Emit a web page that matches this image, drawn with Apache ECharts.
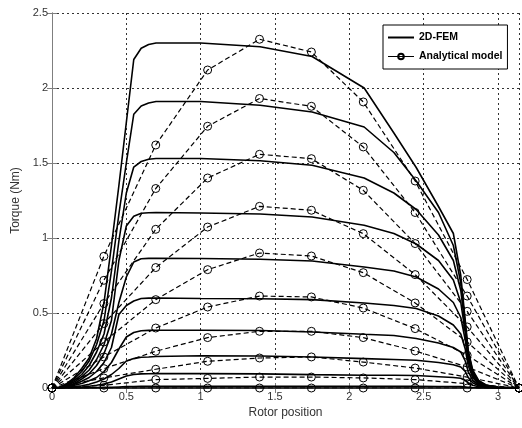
<!DOCTYPE html>
<html><head><meta charset="utf-8">
<script src="https://cdn.jsdelivr.net/npm/echarts@6/dist/echarts.min.js"></script>
<style>html,body{margin:0;padding:0;background:#fff}#c{width:522px;height:428px}</style>
</head><body><div id="c"></div>
<script>
const xMax = 3.1416;
const xTicks = [0, 0.5, 1, 1.5, 2, 2.5, 3];
const yTicks = [0, 0.5, 1, 1.5, 2, 2.5];

// 2D-FEM sample positions
const femX = [0, 0.05, 0.1, 0.15, 0.2, 0.25, 0.3, 0.35, 0.4, 0.45, 0.5, 0.55, 0.6, 0.65, 0.7,
              1.0, 1.4, 1.75, 2.1,
              2.3, 2.45, 2.6, 2.7, 2.75, 2.78, 2.8, 2.83, 2.87, 2.92, 3.0, 3.1416];
const fem1 = [0, 0.005, 0.03, 0.07, 0.13, 0.2, 0.33, 0.57, 0.95, 1.35, 1.77, 2.19, 2.265, 2.29, 2.30,
              2.30, 2.275, 2.21, 2.0,
              1.70, 1.47, 1.21, 1.03, 0.75, 0.45, 0.25, 0.12, 0.05, 0.02, 0.005, 0];
const fem2 = [0, 0.004, 0.025, 0.06, 0.11, 0.18, 0.29, 0.45, 0.78, 1.16, 1.5, 1.825, 1.88, 1.90, 1.91,
              1.91, 1.885, 1.84, 1.74,
              1.57, 1.38, 1.17, 0.95, 0.70, 0.43, 0.24, 0.11, 0.045, 0.018, 0.004, 0];
const fem3 = [0, 0.003, 0.02, 0.05, 0.09, 0.15, 0.24, 0.36, 0.6, 0.98, 1.3, 1.473, 1.51, 1.525, 1.53,
              1.53, 1.515, 1.485, 1.40,
              1.30, 1.19, 1.02, 0.85, 0.65, 0.40, 0.22, 0.10, 0.04, 0.016, 0.004, 0];
const fem4 = [0, 0.003, 0.018, 0.04, 0.075, 0.12, 0.19, 0.29, 0.45, 0.85, 1.08, 1.145, 1.165, 1.168, 1.17,
              1.167, 1.16, 1.14, 1.085,
              1.03, 0.96, 0.85, 0.72, 0.57, 0.37, 0.20, 0.09, 0.035, 0.014, 0.003, 0];
const fem5 = [0, 0.002, 0.015, 0.03, 0.06, 0.095, 0.15, 0.23, 0.36, 0.57, 0.74, 0.84, 0.862, 0.864, 0.865,
              0.863, 0.858, 0.847, 0.807,
              0.78, 0.74, 0.66, 0.57, 0.47, 0.32, 0.18, 0.08, 0.03, 0.012, 0.003, 0];
const fem6 = [0, 0.002, 0.012, 0.025, 0.045, 0.07, 0.11, 0.17, 0.27, 0.49, 0.55, 0.58, 0.597, 0.599, 0.6,
              0.597, 0.595, 0.589, 0.567,
              0.55, 0.53, 0.48, 0.42, 0.36, 0.26, 0.15, 0.07, 0.025, 0.01, 0.002, 0];
const fem7 = [0, 0.001, 0.008, 0.018, 0.03, 0.048, 0.07, 0.11, 0.17, 0.26, 0.34, 0.37, 0.382, 0.384, 0.385,
              0.385, 0.383, 0.373, 0.358,
              0.35, 0.33, 0.30, 0.27, 0.24, 0.18, 0.11, 0.05, 0.02, 0.008, 0.002, 0];
const fem8 = [0, 0.001, 0.005, 0.01, 0.015, 0.025, 0.04, 0.06, 0.09, 0.13, 0.18, 0.196, 0.205, 0.207, 0.21,
              0.215, 0.213, 0.207, 0.196,
              0.19, 0.185, 0.17, 0.155, 0.14, 0.11, 0.07, 0.035, 0.014, 0.006, 0.001, 0];
const fem9 = [0, 0, 0.002, 0.004, 0.007, 0.012, 0.018, 0.027, 0.04, 0.06, 0.08, 0.09, 0.094, 0.095, 0.096,
              0.096, 0.094, 0.089, 0.085,
              0.085, 0.083, 0.075, 0.07, 0.065, 0.05, 0.035, 0.018, 0.008, 0.003, 0.001, 0];
const fem10 = [0, 0, 0, 0.001, 0.001, 0.002, 0.003, 0.004, 0.005, 0.007, 0.009, 0.01, 0.011, 0.011, 0.011,
               0.011, 0.011, 0.011, 0.011,
               0.011, 0.011, 0.01, 0.01, 0.009, 0.007, 0.005, 0.003, 0.001, 0, 0, 0];
const fem11 = [0, 0, 0, 0, 0, 0, 0, 0, 0, 0, 0, 0, 0, 0, 0,
               0, 0, 0, 0,
               0, 0, 0, 0, 0, 0, 0, 0, 0, 0, 0, 0];

// Analytical model sample positions
const anaX = [0, 0.349, 0.698, 1.047, 1.396, 1.745, 2.094, 2.443, 2.793, 3.1416];
const ana1 = [0, 0.878, 1.62, 2.12, 2.325, 2.24, 1.907, 1.38, 0.723, 0];
const ana2 = [0, 0.718, 1.33, 1.745, 1.93, 1.878, 1.607, 1.17, 0.613, 0];
const ana3 = [0, 0.563, 1.058, 1.40, 1.558, 1.529, 1.318, 0.963, 0.511, 0];
const ana4 = [0, 0.43, 0.803, 1.073, 1.211, 1.185, 1.029, 0.756, 0.407, 0];
const ana5 = [0, 0.307, 0.589, 0.789, 0.90, 0.88, 0.769, 0.567, 0.307, 0];
const ana6 = [0, 0.207, 0.40, 0.54, 0.613, 0.607, 0.533, 0.396, 0.218, 0];
const ana7 = [0, 0.129, 0.245, 0.336, 0.378, 0.378, 0.336, 0.247, 0.14, 0];
const ana8 = [0, 0.067, 0.125, 0.178, 0.20, 0.207, 0.173, 0.133, 0.073, 0];
const ana9 = [0, 0.018, 0.056, 0.064, 0.073, 0.073, 0.067, 0.056, 0.029, 0];
const ana10 = [0, 0, 0, 0, 0, 0, 0, 0, 0, 0];

const femCurves = [fem1, fem2, fem3, fem4, fem5, fem6, fem7, fem8, fem9, fem10, fem11];
const anaCurves = [ana1, ana2, ana3, ana4, ana5, ana6, ana7, ana8, ana9, ana10];

const series = [];
femCurves.forEach(c => series.push({
  type: 'line', name: '2D-FEM', symbol: 'none', showSymbol: false, silent: true,
  data: femX.map((x, i) => [x, c[i]]),
  lineStyle: { color: '#000', width: 1.6 }, itemStyle: { color: '#000' }, z: 3
}));
anaCurves.forEach(c => series.push({
  type: 'line', name: 'Analytical model', symbol: 'circle', symbolSize: 8, silent: true,
  data: anaX.map((x, i) => [x, c[i]]),
  lineStyle: { color: '#000', width: 1.2, type: [5, 3] },
  itemStyle: { color: 'rgba(255,255,255,0)', borderColor: '#000', borderWidth: 1 }, z: 4
}));

const font = 'Liberation Sans, Arial, sans-serif';
const isTick = (v, arr) => arr.some(t => Math.abs(t - v) < 1e-9);
const axisGray = '#7f7f7f';

const chart = echarts.init(document.getElementById('c'), null, { renderer: 'canvas' });
chart.setOption({
  animation: false,
  backgroundColor: '#fff',
  grid: { left: 52, right: 2, top: 13, bottom: 40, show: false },
  legend: {
    orient: 'vertical', left: 383, top: 25,
    data: [
      { name: '2D-FEM', itemStyle: { opacity: 0 }, lineStyle: { width: 2, type: 'solid', color: '#000' } },
      { name: 'Analytical model', lineStyle: { width: 1, type: 'solid', color: '#000' } }
    ],
    itemWidth: 26, itemHeight: 7, itemGap: 8,
    padding: [7, 5, 7, 4],
    borderColor: '#000', borderWidth: 1, backgroundColor: '#fff',
    textStyle: { fontFamily: font, fontSize: 10.5, fontWeight: 'bold', color: '#000' },
    selectedMode: false
  },
  xAxis: [{
    type: 'value', min: 0, max: xMax, interval: 0.5, position: 'bottom',
    axisLine: { lineStyle: { color: axisGray } },
    axisTick: { inside: true, length: 5, lineStyle: { color: axisGray } },
    axisLabel: { color: '#333', fontFamily: font, fontSize: 11, margin: 3,
      formatter: v => isTick(v, xTicks) ? String(v) : '' },
    splitLine: { show: true, lineStyle: { color: '#333', type: [2, 3], width: 1 } },
    name: 'Rotor position', nameLocation: 'middle', nameGap: 16,
    nameTextStyle: { color: '#333', fontFamily: font, fontSize: 12 }
  }, {
    type: 'value', min: 0, max: xMax, interval: 0.5, position: 'top',
    axisLine: { lineStyle: { color: axisGray } },
    axisTick: { inside: true, length: 5, lineStyle: { color: axisGray } },
    axisLabel: { show: false }, splitLine: { show: false }
  }],
  yAxis: [{
    type: 'value', min: 0, max: 2.5, interval: 0.5, position: 'left',
    axisLine: { show: true, lineStyle: { color: axisGray } },
    axisTick: { show: true, inside: true, length: 5, lineStyle: { color: axisGray } },
    axisLabel: { color: '#333', fontFamily: font, fontSize: 11, margin: 4,
      formatter: v => isTick(v, yTicks) ? String(v) : '' },
    splitLine: { show: true, lineStyle: { color: '#333', type: [2, 3], width: 1 } },
    name: 'Torque (Nm)', nameLocation: 'middle', nameGap: 29, nameRotate: 90,
    nameTextStyle: { color: '#333', fontFamily: font, fontSize: 12 }
  }, {
    type: 'value', min: 0, max: 2.5, interval: 0.5, position: 'right',
    axisLine: { show: true, lineStyle: { color: axisGray } },
    axisTick: { show: true, inside: true, length: 5, lineStyle: { color: axisGray } },
    axisLabel: { show: false }, splitLine: { show: false }
  }],
  series: series
});
</script>
</body></html>
